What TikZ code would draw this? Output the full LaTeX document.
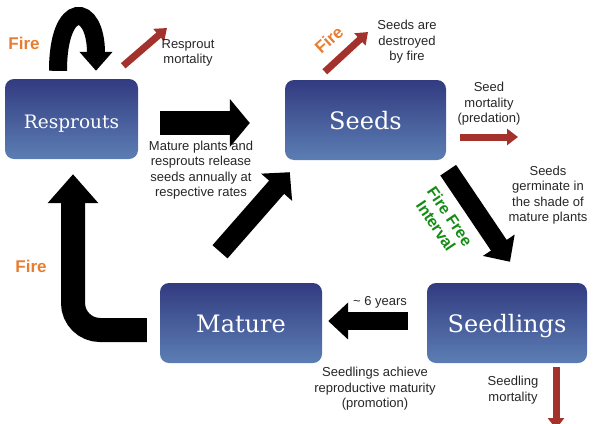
\documentclass[tikz,border=0pt]{standalone}
\usepackage{fontspec}
\setmainfont{Liberation Sans}
\newfontfamily\slabfont{DejaVu Serif}
\usepackage{xcolor}
\usepackage{tikz}
\usetikzlibrary{positioning,arrows.meta,calc}
\definecolor{boxtop}{RGB}{50,59,128}
\definecolor{boxbot}{RGB}{92,126,180}
\definecolor{lossred}{RGB}{163,49,44}
\definecolor{fireorange}{RGB}{232,125,49}
\definecolor{freegreen}{RGB}{20,140,20}
\tikzset{
stage/.style={
rounded corners=9pt,
top color=boxtop,
bottom color=boxbot,
draw=none,
text=white,
font=\slabfont\fontsize{24}{24}\selectfont,
minimum height=80pt,
text height=19pt,
text depth=0pt
},
note/.style={
align=center,
inner sep=0pt,
text=black!85,
font=\fontsize{13}{15.4}\selectfont
},
firetext/.style={
font=\bfseries\fontsize{17}{17}\selectfont,
text=fireorange,
inner sep=0pt
},
bigarrow/.style n args={3}{
draw=black,
line width=#1,
-{Triangle[length=#2,width=#3]}
},
redarrow/.style={
draw=lossred,
line width=7pt,
-{Triangle[length=11pt,width=16pt]}
}
}
\begin{document}
\begin{tikzpicture}[x=1pt,y=-1pt]
\useasboundingbox (0,0) rectangle (593,423);
% life stages
\node[stage,minimum width=133pt,font=\slabfont\fontsize{18.5}{18.5}\selectfont](res) at (71.5,119){Resprouts};
\node[stage,minimum width=161pt](seeds) at (365.5,120){Seeds};
\node[stage,minimum width=162pt](mat) at (241,323){Mature};
\node[stage,minimum width=160pt](sdl) at (507,323){Seedlings};

% transitions
\draw[bigarrow={24pt}{20pt}{47pt}] ([shift={(22,4)}]res.east) -- ([shift={(-35,3)}]seeds.west);
\draw[bigarrow={20pt}{20pt}{40pt}] ([shift={(-21,-31)}]mat.north) -- ([shift={(5,12)}]seeds.south west);
\draw[bigarrow={19pt}{20pt}{37pt}] ([shift={(2,10)}]seeds.south east) -- ([shift={(3,-21)}]sdl.north);
\draw[bigarrow={18pt}{20pt}{36pt}] ([shift={(-19,-2)}]sdl.west) -- ([shift={(6,-2)}]mat.east);
\draw[bigarrow={24pt}{29pt}{49pt},rounded corners=27pt] ([shift={(-13,7)}]mat.west) -| ([shift={(1.5,15)}]res.south);
\draw[bigarrow={18pt}{19pt}{32pt}] ([shift={(-13.5,-8)}]res.north) .. controls +(0,-72) and +(0,-68) .. ([shift={(24.5,-8)}]res.north);

% losses
\coordinate (rmT) at ([shift={(-15,-13)}]res.north east);
\coordinate (rmH) at (167,28);
\coordinate (sfT) at ([shift={(40,-8)}]seeds.north west);
\coordinate (sfH) at (368,32);
\coordinate (smT) at ([shift={(14,17)}]seeds.east);
\coordinate (smH) at (518,137);
\coordinate (dmT) at ([shift={(49,4)}]sdl.south);
\coordinate (dmH) at (556,429);
\foreach \x/\y in {rmT/rmH,sfT/sfH,smT/smH,dmT/dmH}
\draw[redarrow](\x)--(\y);

% labels
\node[firetext](f1) at (24,43){Fire};
\node[firetext](f2) at (31,266){Fire};
\node[firetext,rotate=42](f3) at (329,40){Fire};
\node[note](lrm) at (188,53){Resprout\\mortality};
\node[note](lrel) at (201,170){Mature plants and\\resprouts release\\seeds annually at\\respective rates};
\node[note](lsd) at (407,42){Seeds are\\destroyed\\by fire};
\node[note](lsm) at (489,104){Seed\\mortality\\(predation)};
\node[note](lger) at (548,195){Seeds\\germinate in\\the shade of\\mature plants};
\node[font=\bfseries\fontsize{16}{17}\selectfont,text=freegreen,rotate=-56,align=center,inner sep=0pt](lffi) at (443,221){Fire Free\\Interval};
\node[note](lyr) at (380,302){\textasciitilde\ 6 years};
\node[note](lpro) at (375,389){Seedlings achieve\\reproductive maturity\\(promotion)};
\node[note](lsdm) at (513,390){Seedling\\mortality};
\end{tikzpicture}
\end{document}
